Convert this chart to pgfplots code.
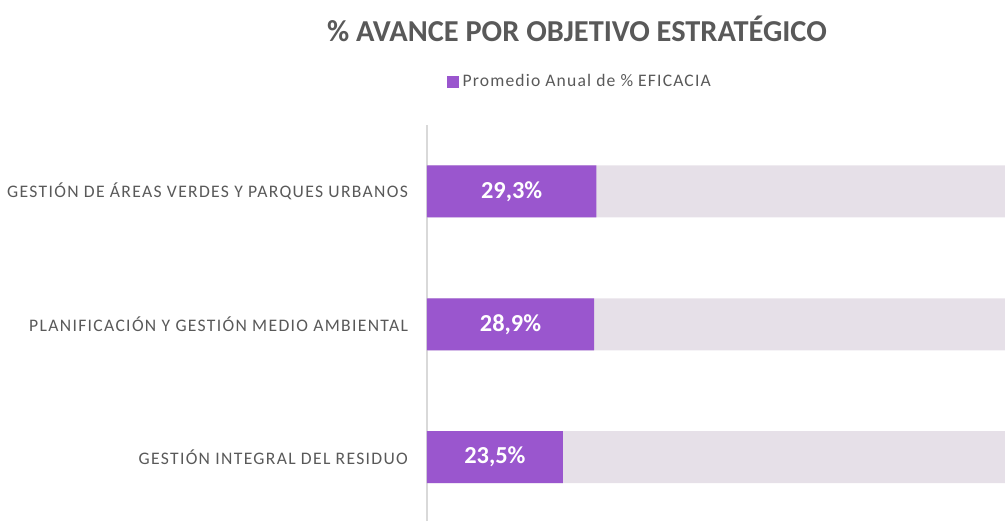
\documentclass[border=0pt]{standalone}
\usepackage{fontspec}
\setmainfont{Carlito}
\usepackage{pgfplots}
\pgfplotsset{compat=1.18}
\usepackage{pgfplotstable}
\definecolor{barpurple}{HTML}{9A56CE}
\definecolor{barback}{HTML}{E6E0E8}
\definecolor{txtgray}{HTML}{595959}
\definecolor{axgray}{HTML}{D9D9D9}

\pgfplotstableread{
y v lab
0 23.5 {23,5\%}
1 28.9 {28,9\%}
2 29.3 {29,3\%}
}\avance

\begin{document}
\begin{tikzpicture}
\begin{axis}[
  name=ax,
  width=289pt, height=198pt, scale only axis,
  xmin=0, xmax=100, ymin=-0.48, ymax=2.5,
  axis x line=none,
  axis y line*=left,
  y axis line style={draw=axgray, line width=0.8pt},
  ytick={0,1,2},
  yticklabels={GESTIÓN INTEGRAL DEL RESIDUO, PLANIFICACIÓN Y GESTIÓN MEDIO AMBIENTAL, GESTIÓN DE ÁREAS VERDES Y PARQUES URBANOS},
  major tick length=0pt,
  yticklabel style={font=\fontsize{8.8}{10}\selectfont\addfontfeatures{LetterSpace=7.5}, text=txtgray, xshift=-6pt},
  title={\fontsize{15.2}{18}\selectfont\bfseries \% AVANCE POR OBJETIVO ESTRATÉGICO},
  title style={at={(0.2595,1.213)}, anchor=center, text=txtgray},
  legend style={at={(0.266,1.109)}, anchor=center, draw=none, fill=none,
    font=\fontsize{8.8}{10}\selectfont\addfontfeatures{LetterSpace=6.5}, text=txtgray,
    inner sep=0pt, row sep=0pt},
  legend image code/.code={\fill[barpurple] (0pt,-3pt) rectangle (6pt,3pt);},
  clip=false,
]
\addplot[xbar, bar width=26pt, bar shift=0pt, fill=barback, draw=none, forget plot]
  table[x expr=100, y=y] {\avance};
\addplot[xbar, bar width=26pt, bar shift=0pt, fill=barpurple, draw=none]
  table[x=v, y=y] {\avance};
\addlegendentry{Promedio Anual de \% EFICACIA}
\addplot[draw=none, mark=none, nodes near coords, point meta=explicit symbolic,
  every node near coord/.style={anchor=center, text=white, font=\fontsize{12.2}{14}\selectfont\bfseries}, forget plot]
  table[x expr=\thisrow{v}/2, y=y, meta=lab] {\avance};
\end{axis}
\pgfresetboundingbox
\path ([xshift=-213.5pt]ax.south west) rectangle ([yshift=62.5pt]ax.north east);
\end{tikzpicture}
\end{document}
